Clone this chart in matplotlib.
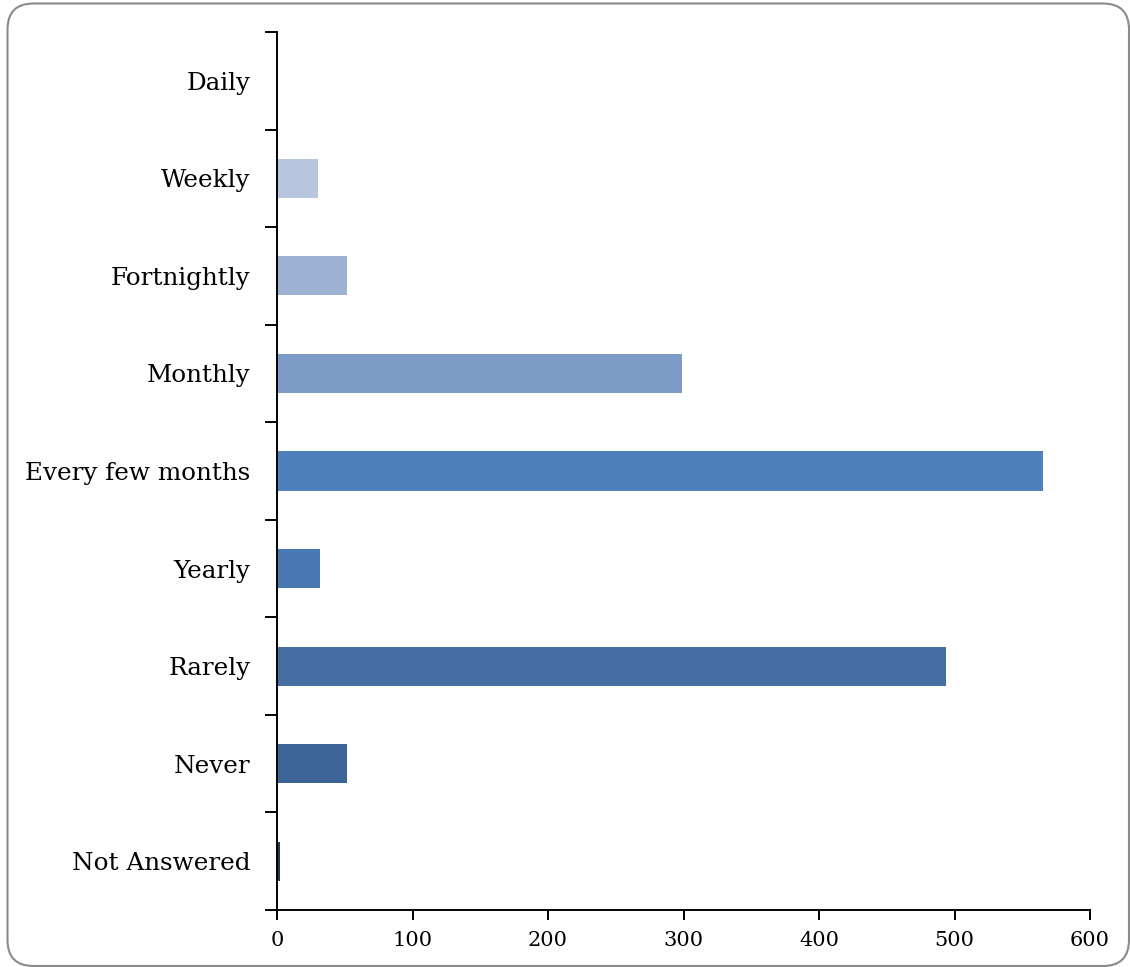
import numpy as np
import matplotlib
matplotlib.use("Agg")
import matplotlib.pyplot as plt
from matplotlib.patches import FancyBboxPatch

categories = ['Daily', 'Weekly', 'Fortnightly', 'Monthly', 'Every few months',
              'Yearly', 'Rarely', 'Never', 'Not Answered']
counts = [0, 30, 52, 299, 565, 32, 494, 52, 2]
bar_colors = ['#CBD5E8', '#B7C5DF', '#9DB1D3', '#7E9BC7', '#4E80BB',
              '#4A78B2', '#456FA3', '#3D6496', '#1F3960']
x_ticks = [0, 100, 200, 300, 400, 500, 600]

plt.rcParams['font.family'] = ['DejaVu Serif']

fig = plt.figure(figsize=(11.3, 9.67), dpi=100)
ax = fig.add_axes([277/1130, 1 - 910/967, (1090-277)/1130, (910-32)/967])

# rounded frame around the whole chart (pixel coords)
frame = FancyBboxPatch((7.5, 1.0), 1121.5, 962.5,
                       boxstyle="round,pad=0,rounding_size=26",
                       transform=None, facecolor='none',
                       edgecolor='#8a8a8a', linewidth=1.5, clip_on=False)
fig.patches.append(frame)

y = np.arange(len(categories))
ax.barh(y, counts, height=0.4, color=bar_colors)

ax.set_xlim(0, 600)
ax.set_ylim(len(categories) - 0.5, -0.5)
ax.set_xticks(x_ticks)
ax.set_xticklabels([str(v) for v in x_ticks], fontsize=15)

# category labels in the middle, ticks on the boundaries
ax.set_yticks(np.arange(-0.5, len(categories)), minor=False)
ax.set_yticklabels([])
ax.set_yticks(y, minor=True)
ax.set_yticklabels(categories, minor=True, fontsize=17.7)
ax.tick_params(axis='y', which='major', direction='out', length=9, width=1.4)
ax.tick_params(axis='y', which='minor', length=0, pad=19)
ax.tick_params(axis='x', direction='out', length=7, width=1.4, pad=8)

for side in ['top', 'right']:
    ax.spines[side].set_visible(False)
for side in ['left', 'bottom']:
    ax.spines[side].set_linewidth(1.4)

fig.savefig('out.png', dpi=100)
